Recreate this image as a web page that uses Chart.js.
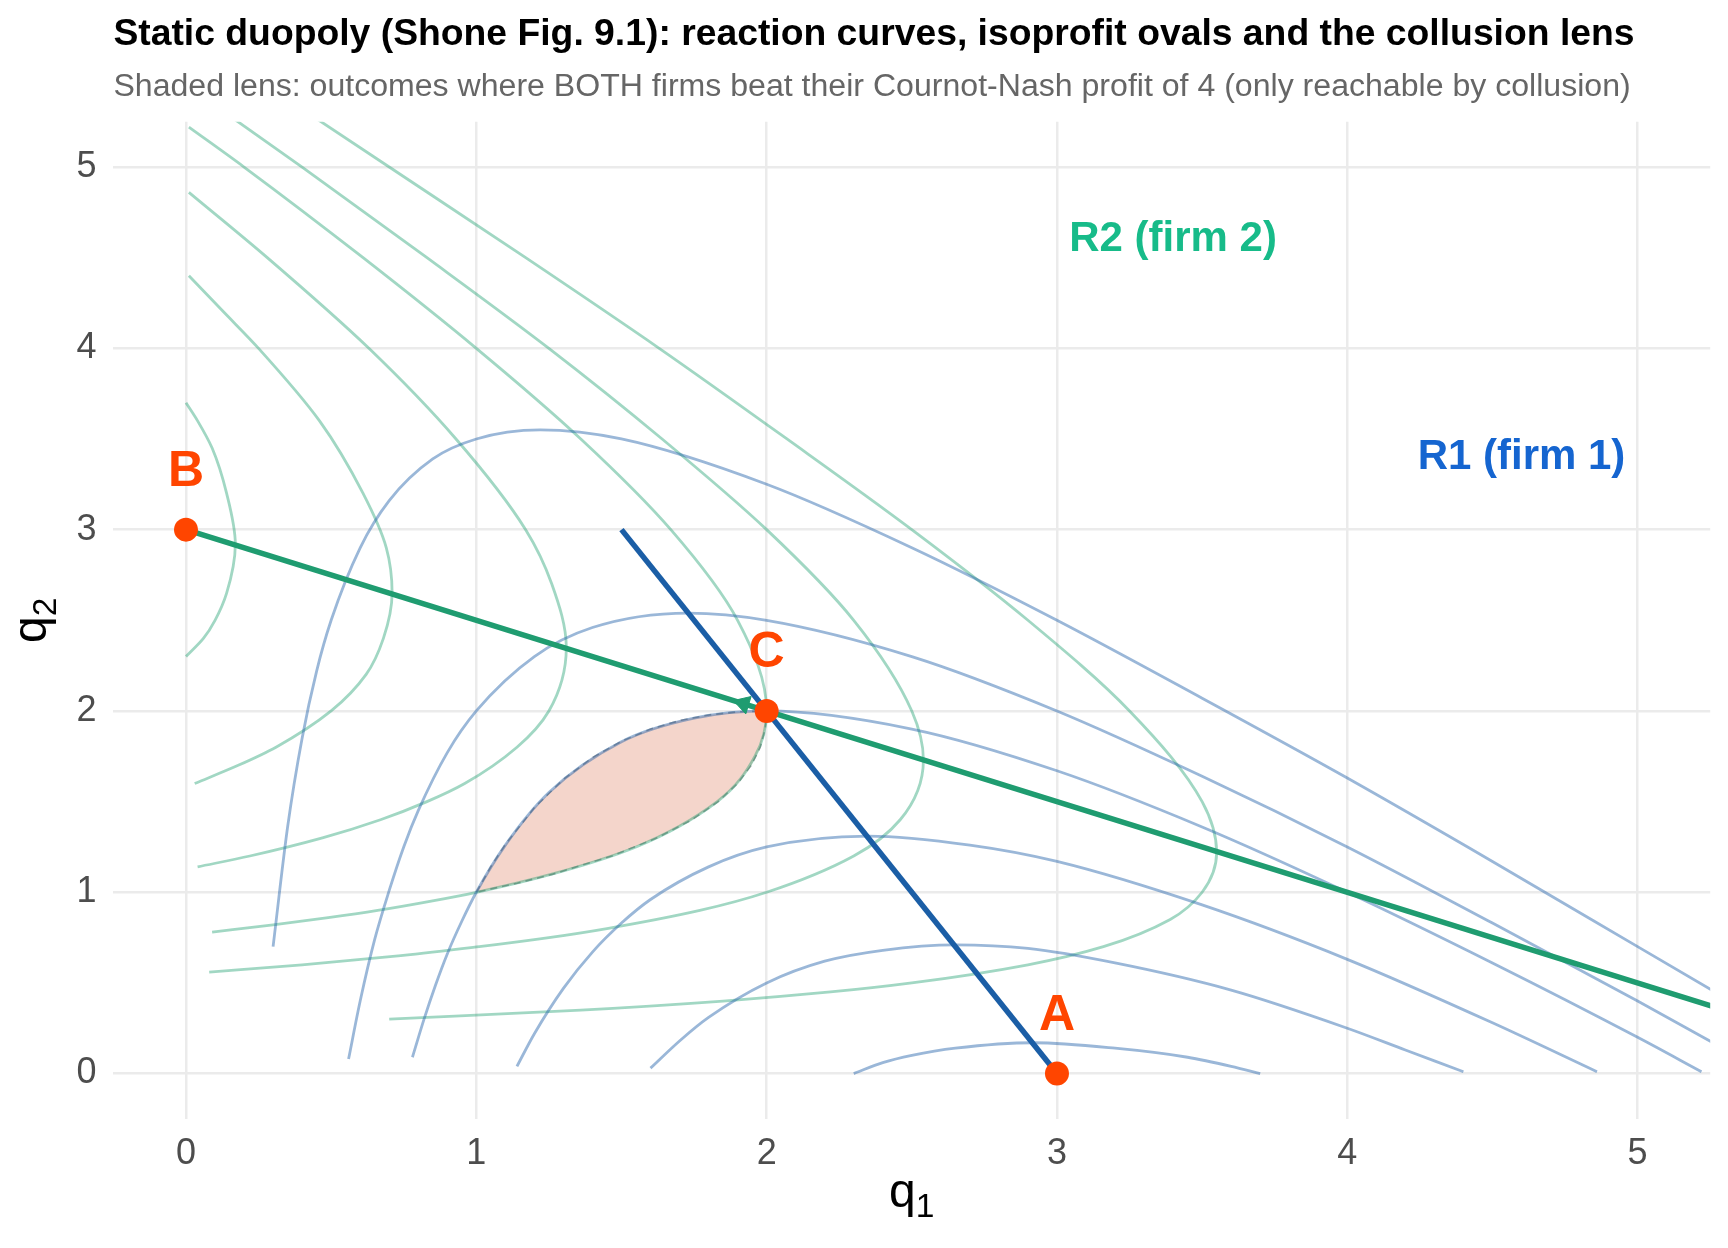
<!DOCTYPE html>
<html lang="en">
<head>
<meta charset="UTF-8">
<title>Static duopoly - reaction curves and isoprofit ovals</title>
<script src="https://cdn.jsdelivr.net/npm/chart.js@4"></script>
<style>
  html, body { margin: 0; padding: 0; background: #ffffff; }
  #wrap { width: 1728px; height: 1248px; }
</style>
</head>
<body>
<div id="wrap"><canvas id="chart" width="1728" height="1248"></canvas></div>
<script>
const FONT = "'Liberation Sans', Arial, Helvetica, sans-serif";

const tickValues = [0, 1, 2, 3, 4, 5];
const axisBase = 'q';
const axisSubX = '1';
const axisSubY = '2';

// firm 1 isoprofit curves, [q1, q2], profit levels 1.5, 3, 4, 5.5, 7, 8.5
const firm1Profit1_5 = [[0.30,0.70],[0.35,1.36],[0.40,1.85],[0.45,2.22],[0.50,2.50],[0.60,2.90],[0.70,3.16],[0.85,3.39],[1.00,3.50],[1.22,3.55],[1.50,3.50],[2.00,3.25],[2.50,2.90],[3.00,2.50],[3.50,2.07],[4.00,1.63],[4.50,1.17],[5.00,0.70],[5.50,0.23]];
const firm1Profit3 = [[0.56,0.08],[0.60,0.40],[0.65,0.74],[0.70,1.01],[0.75,1.25],[0.80,1.45],[0.90,1.77],[1.00,2.00],[1.20,2.30],[1.40,2.46],[1.73,2.54],[2.00,2.50],[2.50,2.30],[3.00,2.00],[3.50,1.64],[4.00,1.25],[4.50,0.83],[5.00,0.40],[5.44,0.01]];
const firm1Profit4 = [[0.78,0.09],[0.82,0.30],[0.86,0.49],[0.90,0.66],[0.95,0.84],[1.00,1.00],[1.10,1.26],[1.25,1.55],[1.50,1.83],[1.75,1.96],[2.00,2.00],[2.50,1.90],[3.00,1.67],[3.50,1.36],[4.00,1.00],[4.50,0.61],[5.00,0.20],[5.22,0.01]];
const firm1Profit5_5 = [[1.14,0.04],[1.20,0.22],[1.30,0.47],[1.40,0.67],[1.50,0.83],[1.60,0.96],[1.80,1.14],[2.00,1.25],[2.35,1.31],[2.70,1.26],[3.00,1.17],[3.50,0.93],[4.00,0.63],[4.50,0.28],[4.86,0.01]];
const firm1Profit7 = [[1.60,0.03],[1.70,0.18],[1.80,0.31],[2.00,0.50],[2.20,0.62],[2.40,0.68],[2.65,0.71],[2.90,0.69],[3.20,0.61],[3.60,0.46],[4.00,0.25],[4.20,0.13],[4.40,0.01]];
const firm1Profit8_5 = [[2.30,0.00],[2.40,0.06],[2.50,0.10],[2.65,0.14],[2.92,0.17],[3.20,0.14],[3.45,0.09],[3.60,0.04],[3.70,0.00]];

// firm 2 isoprofit curves, [q1, q2], same profit levels
const firm2Profit1_5 = [[0.70,0.30],[1.36,0.35],[1.85,0.40],[2.22,0.45],[2.50,0.50],[2.90,0.60],[3.16,0.70],[3.39,0.85],[3.50,1.00],[3.55,1.22],[3.50,1.50],[3.25,2.00],[2.90,2.50],[2.50,3.00],[2.07,3.50],[1.63,4.00],[1.17,4.50],[0.70,5.00],[0.23,5.50]];
const firm2Profit3 = [[0.08,0.56],[0.40,0.60],[0.74,0.65],[1.01,0.70],[1.25,0.75],[1.45,0.80],[1.77,0.90],[2.00,1.00],[2.30,1.20],[2.46,1.40],[2.54,1.73],[2.50,2.00],[2.30,2.50],[2.00,3.00],[1.64,3.50],[1.25,4.00],[0.83,4.50],[0.40,5.00],[0.01,5.44]];
const firm2Profit4 = [[0.09,0.78],[0.30,0.82],[0.49,0.86],[0.66,0.90],[0.84,0.95],[1.00,1.00],[1.26,1.10],[1.55,1.25],[1.83,1.50],[1.96,1.75],[2.00,2.00],[1.90,2.50],[1.67,3.00],[1.36,3.50],[1.00,4.00],[0.61,4.50],[0.20,5.00],[0.01,5.22]];
const firm2Profit5_5 = [[0.04,1.14],[0.22,1.20],[0.47,1.30],[0.67,1.40],[0.83,1.50],[0.96,1.60],[1.14,1.80],[1.25,2.00],[1.31,2.35],[1.26,2.70],[1.17,3.00],[0.93,3.50],[0.63,4.00],[0.28,4.50],[0.01,4.86]];
const firm2Profit7 = [[0.03,1.60],[0.18,1.70],[0.31,1.80],[0.50,2.00],[0.62,2.20],[0.68,2.40],[0.71,2.65],[0.69,2.90],[0.61,3.20],[0.46,3.60],[0.25,4.00],[0.13,4.20],[0.01,4.40]];
const firm2Profit8_5 = [[0.00,2.30],[0.06,2.40],[0.10,2.50],[0.14,2.65],[0.17,2.92],[0.14,3.20],[0.09,3.45],[0.04,3.60],[0.00,3.70]];

// collusion lens: along firm 1's profit-4 curve, back along firm 2's
const lensOutline = [[1.00,1.000],[1.05,1.141],[1.10,1.264],[1.20,1.467],[1.30,1.623],[1.40,1.743],[1.50,1.833],[1.60,1.900],[1.70,1.947],[1.80,1.978],[1.90,1.995],[2.00,2.000],
                     [1.995,1.90],[1.978,1.80],[1.947,1.70],[1.900,1.60],[1.833,1.50],[1.743,1.40],[1.623,1.30],[1.467,1.20],[1.264,1.10],[1.141,1.05],[1.000,1.00]];

// reaction curves
const reaction1 = [[1.5, 3], [3, 0]];
const reaction2 = [[0, 3], [6, 0]];
const arrowAt = [[1.92, 2.04]];

// named outcomes
const pointNames = ['A', 'B', 'C'];
const pointQ1 = [3, 0, 2];
const pointQ2 = [0, 3, 2];

const curveNames = ['R2 (firm 2)', 'R1 (firm 1)'];
const curveNameQ1 = [3.4, 4.6];
const curveNameQ2 = [4.6, 3.4];
const curveNameColours = ['#17BB89', '#1565D0'];

const BLUE_ISO = 'rgba(31, 95, 168, 0.45)';
const GREEN_ISO = 'rgba(30, 160, 112, 0.42)';

const toXY = arr => arr.map(p => ({ x: p[0], y: p[1] }));

// firm 1 curves run along q1, firm 2 curves along q2
function isoCurve(points, colour, along) {
    return {
        data: toXY(points),
        indexAxis: along,
        borderColor: colour,
        borderWidth: 2.8,
        pointRadius: 0,
        cubicInterpolationMode: 'monotone',
        fill: false,
        order: 5
    };
}

function drawSubscripted(ctx, sub, x, y) {
    ctx.font = '48px ' + FONT;
    const wq = ctx.measureText(axisBase).width;
    ctx.font = '33.6px ' + FONT;
    const ws = ctx.measureText(sub).width;
    const x0 = x - (wq + ws) / 2;
    ctx.font = '48px ' + FONT;
    ctx.fillText(axisBase, x0, y);
    ctx.font = '33.6px ' + FONT;
    ctx.fillText(sub, x0 + wq, y + 10);
}

// text on the panel: A / B / C, the reaction curve names and the axis titles
const panelText = {
    id: 'panelText',
    afterDatasetsDraw(chart) {
        const { ctx, chartArea: area, scales: { x, y } } = chart;
        ctx.save();
        ctx.textAlign = 'center';
        ctx.textBaseline = 'alphabetic';
        ctx.fillStyle = '#FF4500';
        ctx.font = 'bold 50px ' + FONT;
        pointNames.forEach((name, i) => {
            ctx.fillText(name, x.getPixelForValue(pointQ1[i]), y.getPixelForValue(pointQ2[i]) - 44);
        });
        ctx.font = 'bold 42px ' + FONT;
        ctx.textBaseline = 'middle';
        curveNames.forEach((name, i) => {
            ctx.fillStyle = curveNameColours[i];
            ctx.fillText(name, x.getPixelForValue(curveNameQ1[i]), y.getPixelForValue(curveNameQ2[i]));
        });

        ctx.textAlign = 'left';
        ctx.textBaseline = 'alphabetic';
        ctx.fillStyle = '#000000';
        drawSubscripted(ctx, axisSubX, (area.left + area.right) / 2, area.bottom + 88);
        ctx.translate(area.left - 67.7, (area.top + area.bottom) / 2);
        ctx.rotate(-Math.PI / 2);
        drawSubscripted(ctx, axisSubY, 0, 0);
        ctx.restore();
    }
};

const datasets = [
    {
        data: pointQ1.map((q, i) => ({ x: q, y: pointQ2[i] })),
        pointRadius: 12,
        backgroundColor: '#FF4500',
        borderWidth: 0,
        showLine: false,
        order: 0
    },
    {
        data: toXY(arrowAt),
        pointStyle: 'triangle',
        pointRadius: 10.5,
        rotation: 287,
        backgroundColor: '#1F9C70',
        borderColor: '#1F9C70',
        borderWidth: 1,
        showLine: false,
        order: 1
    },
    {
        data: toXY(reaction2),
        borderColor: '#1F9C70',
        borderWidth: 5.5,
        pointRadius: 0,
        order: 2
    },
    {
        data: toXY(reaction1),
        borderColor: '#1B5EA6',
        borderWidth: 5.5,
        pointRadius: 0,
        order: 3
    },
    isoCurve(firm1Profit1_5, BLUE_ISO, 'x'),
    isoCurve(firm1Profit3, BLUE_ISO, 'x'),
    isoCurve(firm1Profit4, BLUE_ISO, 'x'),
    isoCurve(firm1Profit5_5, BLUE_ISO, 'x'),
    isoCurve(firm1Profit7, BLUE_ISO, 'x'),
    isoCurve(firm1Profit8_5, BLUE_ISO, 'x'),
    isoCurve(firm2Profit1_5, GREEN_ISO, 'y'),
    isoCurve(firm2Profit3, GREEN_ISO, 'y'),
    isoCurve(firm2Profit4, GREEN_ISO, 'y'),
    isoCurve(firm2Profit5_5, GREEN_ISO, 'y'),
    isoCurve(firm2Profit7, GREEN_ISO, 'y'),
    isoCurve(firm2Profit8_5, GREEN_ISO, 'y'),
    {
        data: toXY(lensOutline),
        fill: 'shape',
        backgroundColor: '#F4D5CB',
        borderColor: 'rgba(110, 110, 110, 0.65)',
        borderWidth: 1.6,
        borderDash: [7, 5],
        pointRadius: 0,
        tension: 0,
        order: 6
    }
];

new Chart(document.getElementById('chart'), {
    type: 'line',
    data: { datasets: datasets },
    plugins: [panelText],
    options: {
        responsive: false,
        animation: false,
        events: [],
        layout: { padding: { left: 0, right: 17.8, top: 0, bottom: 0 } },
        elements: { line: { capBezierPoints: false } },
        plugins: {
            legend: { display: false },
            tooltip: { enabled: false },
            title: {
                display: true,
                fullSize: false,
                align: 'start',
                text: 'Static duopoly (Shone Fig. 9.1): reaction curves, isoprofit ovals and the collusion lens',
                color: '#000000',
                font: { family: FONT, size: 37.3, weight: 'bold' },
                padding: { top: 12.6, bottom: 0 }
            },
            subtitle: {
                display: true,
                fullSize: false,
                align: 'start',
                text: 'Shaded lens: outcomes where BOTH firms beat their Cournot-Nash profit of 4 (only reachable by collusion)',
                color: '#666666',
                font: { family: FONT, size: 32.1 },
                padding: { top: 10.2, bottom: 15.6 }
            }
        },
        scales: {
            x: {
                type: 'linear',
                min: -0.25,
                max: 5.25,
                afterBuildTicks: s => { s.ticks = tickValues.map(v => ({ value: v })); },
                afterFit: s => { s.height = 129.1; },
                grid: { color: '#EBEBEB', lineWidth: 2.5, drawTicks: false },
                border: { display: false },
                ticks: { padding: 14, color: '#4D4D4D', font: { family: FONT, size: 36 } },
                title: { display: false }
            },
            y: {
                type: 'linear',
                min: -0.25,
                max: 5.25,
                afterBuildTicks: s => { s.ticks = tickValues.map(v => ({ value: v })); },
                afterFit: s => { s.width = 113.4; },
                grid: { color: '#EBEBEB', lineWidth: 2.5, drawTicks: false },
                border: { display: false },
                ticks: { padding: 17, color: '#4D4D4D', font: { family: FONT, size: 36 } },
                title: { display: false }
            }
        }
    }
});
</script>
</body>
</html>
